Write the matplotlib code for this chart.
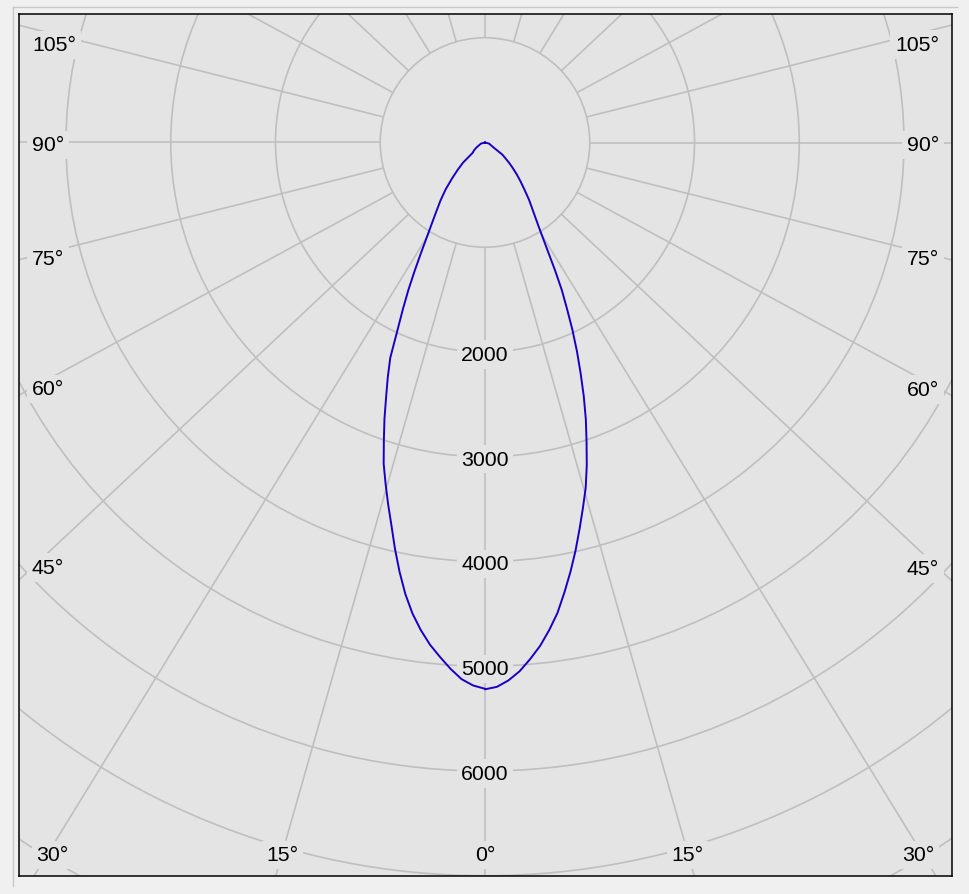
import numpy as np
import matplotlib.pyplot as plt
from matplotlib.patches import Circle
from matplotlib.lines import Line2D

# luminous intensity (cd) against gamma angle
gamma = [0, 1.25, 2.5, 3.75, 5, 6.25, 7.5, 8.75, 10, 11.25, 12.5, 13.75, 15,
         16.25, 17.5, 18.75, 20, 21.25, 22.5, 23.75, 25, 26.25, 27.5, 28.75, 30,
         32.5, 35, 37.5, 40, 42.5, 45, 47.5, 50, 55, 60, 75, 90]
cd_left = [5215, 5185, 5128, 5035, 4930, 4823, 4695, 4550, 4378, 4180, 3972, 3760, 3574,
           3392, 3217, 3004, 2806, 2604, 2425, 2245, 1978, 1770, 1580, 1393, 1229,
           982, 818, 698, 584, 466, 368, 284, 155, 125, 92, 40, 0]
cd_right = [5220, 5198, 5140, 5058, 4950, 4834, 4695, 4545, 4363, 4180, 3992, 3798, 3612,
            3435, 3231, 3016, 2815, 2603, 2386, 2181, 1976, 1770, 1588, 1387, 1204,
            956, 802, 692, 585, 500, 426, 358, 298, 205, 92, 40, 0]

rings = [1000, 2000, 3000, 4000, 5000, 6000, 7000, 8000, 9000, 10000]
ring_labels = [2000, 3000, 4000, 5000, 6000]
side_labels = [45, 60, 75, 90, 105]
bottom_labels = [0, 15, 30]

# layout (pixels of the 969x895 picture)
W, H = 969, 895
CX, CY = 485, 143.5          # pole of the diagram
PX = 104.75 / 1000           # pixels per cd
BOX = (19, 15, 952, 877)     # left, top, right, bottom
STRETCH = 1.065              # the spokes of the original are drawn a bit wide
DROP = 2.5                   # text sits a little below its anchor

BG = "#e4e4e4"
GRID = "#bfbfbf"
FONT = dict(family="Liberation Sans", size=15.3)


def to_data(x, y):
    return (x - CX) / PX, (CY - y) / PX


fig = plt.figure(figsize=(W / 100, H / 100), dpi=100, facecolor="#f0f0f0")
ax = fig.add_axes([BOX[0] / W, 1 - BOX[3] / H,
                   (BOX[2] - BOX[0]) / W, (BOX[3] - BOX[1]) / H])
ax.set_facecolor(BG)
x0, y1 = to_data(BOX[0], BOX[1])
x1, y0 = to_data(BOX[2], BOX[3])
ax.set_xlim(x0, x1)
ax.set_ylim(y0, y1)
ax.set_xticks([])
ax.set_yticks([])
for s in ax.spines.values():
    s.set_color("black")
    s.set_linewidth(1.1)

# rings
for r in rings:
    ax.add_patch(Circle((0, 0), r, fill=False, ec=GRID, lw=1.2, zorder=1))

# spokes, every 15 degrees, starting on the first ring
for a in range(0, 360, 15):
    t = np.radians(a)
    ux, uy = STRETCH * np.sin(t), -np.cos(t)
    n = np.hypot(ux, uy)
    ux, uy = ux / n, uy / n
    ax.plot([rings[0] * ux, 20000 * ux], [rings[0] * uy, 20000 * uy],
            color=GRID, lw=1.2, zorder=1, solid_capstyle="butt")

box = dict(boxstyle="square,pad=0.22", fc=BG, ec="none")

# intensity labels on the 0 degree spoke
for v in ring_labels:
    ax.text(0, -v - DROP / PX, str(v), ha="center", va="center", bbox=box,
            zorder=3, **FONT)

# angle labels on the left and right edges
for a in side_labels:
    t = np.radians(a)
    for side in (-1, 1):
        edge = x0 if side < 0 else x1
        ux, uy = side * STRETCH * np.sin(t), -np.cos(t)
        xa = edge - side * 16 / PX
        ya = xa / ux * uy
        if a > 90:
            ya -= 13 / PX
        xt = edge - side * 13 / PX
        ax.text(xt, ya - DROP / PX, f"{a}°", ha="left" if side < 0 else "right",
                va="center", bbox=box, zorder=3, **FONT)

# angle labels along the bottom edge
yb = y0 + 23.5 / PX
half = 17.5 / PX
for a in bottom_labels:
    t = np.radians(a)
    for side in ((1,) if a == 0 else (-1, 1)):
        ux, uy = side * STRETCH * np.sin(t), -np.cos(t)
        xb = yb / uy * ux
        xb = min(max(xb, x0 + 16 / PX + half), x1 - 16 / PX - half)
        ax.text(xb, yb - DROP / PX, f"{a}°", ha="center", va="center", bbox=box,
                zorder=3, **FONT)

# the intensity curve: right half from the tip down, left half back up
g = np.radians(gamma)
rl = np.array(cd_left)
rr = np.array(cd_right)
xs = np.concatenate([(rr * np.sin(g))[::-1], -rl * np.sin(g)])
ys = np.concatenate([(-rr * np.cos(g))[::-1], -rl * np.cos(g)])
ax.plot(xs, ys, color="#1a00c4", lw=1.4, zorder=4, solid_joinstyle="round")

# panel frame around the chart
fig.add_artist(Line2D([12.5 / W, 12.5 / W], [1 - 7.5 / H, 1 - 887 / H],
                      transform=fig.transFigure, color="#c8c8c8", lw=1))
fig.add_artist(Line2D([12.5 / W, 957 / W], [1 - 7.5 / H, 1 - 7.5 / H],
                      transform=fig.transFigure, color="#c8c8c8", lw=1))

fig.savefig("out.png", dpi=100, facecolor=fig.get_facecolor())
